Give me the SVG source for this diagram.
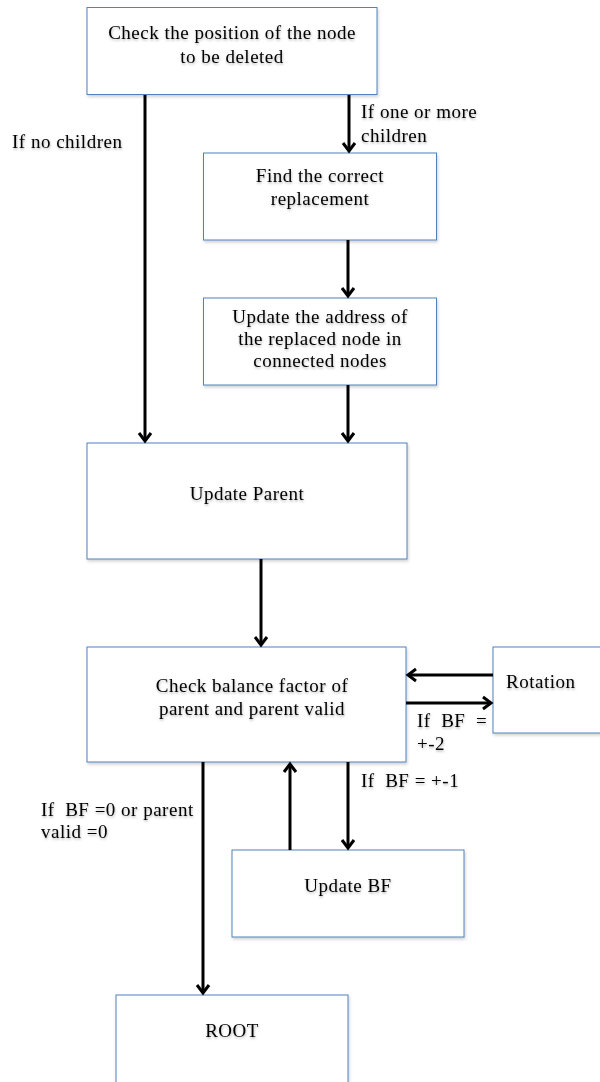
<svg xmlns="http://www.w3.org/2000/svg" width="600" height="1082" viewBox="0 0 600 1082">
<style>
.box{fill:#fff;stroke:#4f81bd;stroke-width:1;filter:url(#bs)}
.t{font-family:"Liberation Serif",serif;font-size:19px;letter-spacing:0.5px;fill:#000;filter:url(#ts)}
.c{text-anchor:middle}
.ln{stroke:#000;stroke-width:3;fill:none;marker-end:url(#ah)}
</style>
<defs>
<filter id="bs" x="-5%" y="-5%" width="110%" height="115%"><feDropShadow dx="1" dy="2" stdDeviation="1.5" flood-color="#000" flood-opacity="0.18"/></filter>
<filter id="ts" x="-5%" y="-20%" width="110%" height="150%"><feDropShadow dx="0.5" dy="1.5" stdDeviation="1" flood-color="#000" flood-opacity="0.3"/></filter>
<marker id="ah" markerUnits="userSpaceOnUse" markerWidth="20" markerHeight="20" viewBox="-10 -10 20 20" refX="0" refY="0" orient="auto">
<path d="M-8,-6 L0,0 L-8,6" fill="none" stroke="#000" stroke-width="3"/>
</marker>
</defs>
<g id="n1"><rect class="box" x="87" y="7.5" width="290" height="87"/>
<text class="t c" x="232" y="39">Check the position of the node</text><text class="t c" x="232" y="63">to be deleted</text></g>
<g id="n2"><rect class="box" x="203.5" y="153" width="233" height="87"/>
<text class="t c" x="320" y="182">Find the correct</text><text class="t c" x="320" y="205">replacement</text></g>
<g id="n3"><rect class="box" x="203.5" y="298" width="233" height="87"/>
<text class="t c" x="320" y="323">Update the address of</text><text class="t c" x="320" y="345">the replaced node in</text><text class="t c" x="320" y="367">connected nodes</text></g>
<g id="n4"><rect class="box" x="87" y="443" width="320" height="116"/>
<text class="t c" x="247" y="500">Update Parent</text></g>
<g id="n5"><rect class="box" x="87" y="647" width="319" height="115"/>
<text class="t c" x="252" y="692">Check balance factor of</text><text class="t c" x="252" y="715">parent and parent valid</text></g>
<g id="n6"><rect class="box" x="493" y="647" width="120" height="86"/>
<text class="t" x="506" y="688">Rotation</text></g>
<g id="n7"><rect class="box" x="232" y="850" width="232" height="87"/>
<text class="t c" x="348" y="892">Update BF</text></g>
<g id="n8"><rect class="box" x="116" y="995" width="232" height="100"/>
<text class="t c" x="232" y="1037">ROOT</text></g>
<g id="connectors">
<line class="ln" x1="145" y1="95" x2="145" y2="441"/>
<line class="ln" x1="349" y1="95" x2="349" y2="151"/>
<line class="ln" x1="348" y1="240" x2="348" y2="296"/>
<line class="ln" x1="348" y1="385" x2="348" y2="441"/>
<line class="ln" x1="261" y1="559" x2="261" y2="645"/>
<line class="ln" x1="493" y1="675" x2="408" y2="675"/>
<line class="ln" x1="406" y1="703" x2="491" y2="703"/>
<line class="ln" x1="348" y1="762" x2="348" y2="848"/>
<line class="ln" x1="290" y1="850" x2="290" y2="764"/>
<line class="ln" x1="203" y1="762" x2="203" y2="993"/>
</g>
<g id="labels">
<text class="t" x="12" y="148">If no children</text>
<text class="t" x="361" y="118">If one or more</text><text class="t" x="361" y="142">children</text>
<text class="t" x="417" y="727" xml:space="preserve">If  BF  =</text><text class="t" x="417" y="750">+-2</text>
<text class="t" x="361" y="787" xml:space="preserve">If  BF = +-1</text>
<text class="t" x="41" y="816" xml:space="preserve">If  BF =0 or parent</text><text class="t" x="41" y="838">valid =0</text>
</g>
</svg>
